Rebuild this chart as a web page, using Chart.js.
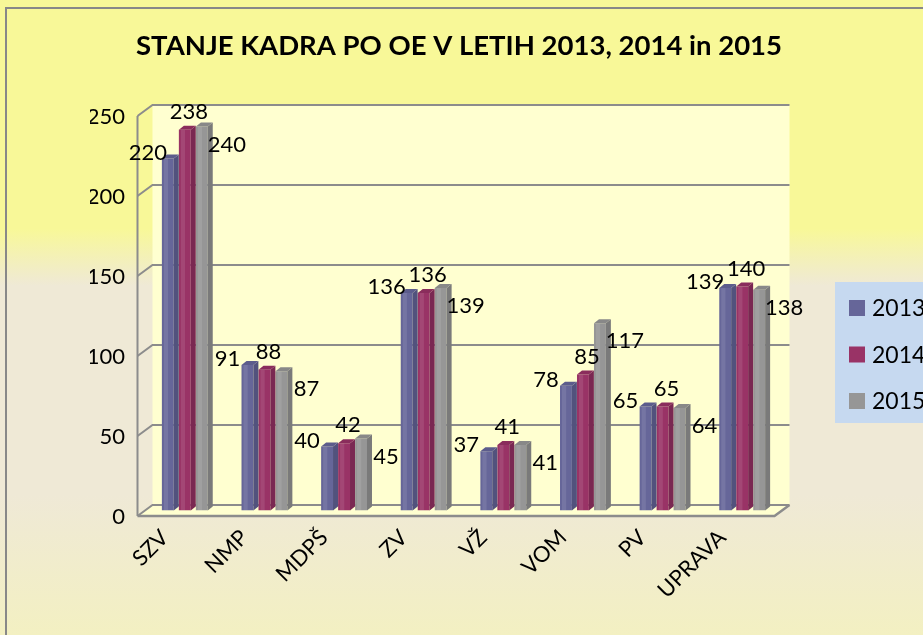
<!DOCTYPE html>
<html lang="sl">
<head>
    <meta charset="UTF-8">
    <title>Stanje kadra po OE</title>
    <script src="https://cdn.jsdelivr.net/npm/chart.js"></script>
    <style>
        html, body {
            margin: 0;
            padding: 0;
            background: #ffffff;
        }
        #wrap {
            width: 923px;
            height: 635px;
            position: relative;
        }
    </style>
</head>
<body>
<div id="wrap">
    <canvas id="myChart" width="923" height="635"></canvas>
</div>

<script>
    // podatki
    var categories = ['SZV', 'NMP', 'MDPŠ', 'ZV', 'VŽ', 'VOM', 'PV', 'UPRAVA'];
    var years = ['2013', '2014', '2015'];
    var values2013 = [220, 91, 40, 136, 37, 78, 65, 139];
    var values2014 = [238, 88, 42, 136, 41, 85, 65, 140];
    var values2015 = [240, 87, 45, 139, 41, 117, 64, 138];
    var yTicks = [0, 50, 100, 150, 200, 250];
    var chartTitle = 'STANJE KADRA PO OE V LETIH 2013, 2014 in 2015';

    var FONT = 'Lato, "Open Sans", sans-serif';
    var faceColors = ['#666699', '#993366', '#969696'];
    var sideColors = ['#52527d', '#7a2852', '#7a7a7a'];
    var topColors = ['#5c5c8c', '#8a2d5c', '#888888'];
    // odmik 3D globine (polovica v vsako smer od srednje ravnine)
    var HX = 7.5, HY = 5.5;
    // odmik oznak vrednosti glede na vrh stolpca, za vsako leto
    var labelShift = [{x: -20, y: -6}, {x: 4, y: -18}, {x: 25, y: 18}];

    var bgPlugin = {
        id: 'bg',
        beforeDraw: function (chart) {
            var c = chart.ctx;
            var g = c.createLinearGradient(0, 0, 0, chart.height);
            g.addColorStop(0, '#f8f898');
            g.addColorStop(0.36, '#f8f898');
            g.addColorStop(0.45, '#efe9d6');
            g.addColorStop(0.78, '#efe9d6');
            g.addColorStop(1, '#f3f0c2');
            c.save();
            c.fillStyle = g;
            c.fillRect(0, 0, chart.width, chart.height);
            c.strokeStyle = '#888888';
            c.lineWidth = 2;
            c.beginPath();
            c.moveTo(6, chart.height);
            c.lineTo(6, 8);
            c.lineTo(chart.width, 8);
            c.stroke();
            // naslov
            c.fillStyle = '#000000';
            c.font = 'bold 27.5px ' + FONT;
            c.textAlign = 'center';
            c.textBaseline = 'middle';
            c.fillText(chartTitle, 459, 46);
            c.restore();
        }
    };

    var wallPlugin = {
        id: 'wall',
        beforeDatasetsDraw: function (chart) {
            var c = chart.ctx;
            var a = chart.chartArea;
            var ys = chart.scales.y;
            var bTop = ys.getPixelForValue(250);
            var bBot = ys.getPixelForValue(0);
            c.save();
            // zadnja stena
            c.fillStyle = '#ffffd0';
            c.fillRect(a.left + HX, bTop - HY, a.right - a.left, bBot - bTop);
            // tla
            c.beginPath();
            c.moveTo(a.left - HX, bBot + HY);
            c.lineTo(a.right - HX, bBot + HY);
            c.lineTo(a.right + HX, bBot - HY);
            c.lineTo(a.left + HX, bBot - HY);
            c.closePath();
            c.fill();
            // mreža
            c.strokeStyle = '#8c8c8c';
            c.lineWidth = 2;
            yTicks.forEach(function (v) {
                var y = ys.getPixelForValue(v);
                c.beginPath();
                c.moveTo(a.left - HX, y + HY);
                c.lineTo(a.left + HX, y - HY);
                c.lineTo(a.right + HX, y - HY);
                c.stroke();
            });
            // os y
            c.beginPath();
            c.moveTo(a.left - HX, bTop + HY);
            c.lineTo(a.left - HX, bBot + HY);
            c.stroke();
            // rob tal
            c.lineWidth = 2.5;
            c.beginPath();
            c.moveTo(a.left - HX, bBot + HY);
            c.lineTo(a.right - HX, bBot + HY);
            c.lineTo(a.right + HX, bBot - HY);
            c.stroke();
            c.restore();
        }
    };

    var bar3dPlugin = {
        id: 'bar3d',
        afterDatasetsDraw: function (chart) {
            var c = chart.ctx;
            var dx = 5, dy = 4;
            c.save();
            chart.data.datasets.forEach(function (ds, di) {
                chart.getDatasetMeta(di).data.forEach(function (bar) {
                    var l = bar.x - bar.width / 2;
                    var r = bar.x + bar.width / 2;
                    var t = bar.y;
                    var b = bar.base;
                    // svetlejši pas na sprednji ploskvi
                    c.fillStyle = 'rgba(255,255,255,0.10)';
                    c.fillRect(l + 2, t, bar.width * 0.35, b - t);
                    // stranska ploskev
                    c.fillStyle = sideColors[di];
                    c.beginPath();
                    c.moveTo(r, t);
                    c.lineTo(r + dx, t - dy);
                    c.lineTo(r + dx, b - dy);
                    c.lineTo(r, b);
                    c.closePath();
                    c.fill();
                    // zgornja ploskev
                    c.fillStyle = topColors[di];
                    c.beginPath();
                    c.moveTo(l, t);
                    c.lineTo(l + dx, t - dy);
                    c.lineTo(r + dx, t - dy);
                    c.lineTo(r, t);
                    c.closePath();
                    c.fill();
                });
            });
            c.restore();
        }
    };

    var valueLabelPlugin = {
        id: 'valueLabels',
        afterDatasetsDraw: function (chart) {
            var c = chart.ctx;
            c.save();
            c.font = '22px ' + FONT;
            c.fillStyle = '#000000';
            c.textAlign = 'center';
            c.textBaseline = 'middle';
            chart.data.datasets.forEach(function (ds, di) {
                chart.getDatasetMeta(di).data.forEach(function (bar, i) {
                    c.fillText(String(ds.data[i]), bar.x + labelShift[di].x, bar.y + labelShift[di].y);
                });
            });
            c.restore();
        }
    };

    var legendPlugin = {
        id: 'boxLegend',
        afterDraw: function (chart) {
            var c = chart.ctx;
            c.save();
            c.fillStyle = '#c6d9f0';
            c.fillRect(835, 282, 100, 141);
            c.font = '23px ' + FONT;
            c.textBaseline = 'middle';
            c.textAlign = 'left';
            chart.data.datasets.forEach(function (ds, di) {
                var cy = 308 + di * 46.5;
                c.fillStyle = ds.backgroundColor;
                c.fillRect(849, cy - 8, 16, 16);
                c.fillStyle = '#000000';
                c.fillText(ds.label, 872, cy + 1);
            });
            c.restore();
        }
    };

    var seriesValues = [values2013, values2014, values2015];

    var ctx = document.getElementById('myChart').getContext('2d');
    var myChart = new Chart(ctx, {
        type: 'bar',
        data: {
            labels: categories,
            datasets: years.map(function (yr, i) {
                return {
                    label: yr,
                    data: seriesValues[i],
                    backgroundColor: faceColors[i],
                    borderWidth: 0,
                    categoryPercentage: 0.64,
                    barPercentage: 0.7
                };
            })
        },
        options: {
            responsive: false,
            animation: false,
            layout: {
                padding: {left: 90, right: 141, top: 110.5, bottom: 0}
            },
            plugins: {
                legend: {display: false},
                tooltip: {enabled: false},
                title: {display: false}
            },
            scales: {
                x: {
                    grid: {display: false},
                    border: {display: false},
                    ticks: {
                        color: '#000000',
                        font: {family: FONT, size: 22},
                        maxRotation: 45,
                        minRotation: 45,
                        padding: 6,
                        labelOffset: -20
                    },
                    afterFit: function (s) { s.height = 124.5; }
                },
                y: {
                    min: 0,
                    max: 250,
                    grid: {display: false},
                    border: {display: false},
                    ticks: {
                        stepSize: 50,
                        color: '#000000',
                        font: {family: FONT, size: 22},
                        padding: 12,
                        labelOffset: 6
                    },
                    afterFit: function (s) { s.width = 55; }
                }
            }
        },
        plugins: [bgPlugin, wallPlugin, bar3dPlugin, valueLabelPlugin, legendPlugin]
    });
</script>
</body>
</html>
